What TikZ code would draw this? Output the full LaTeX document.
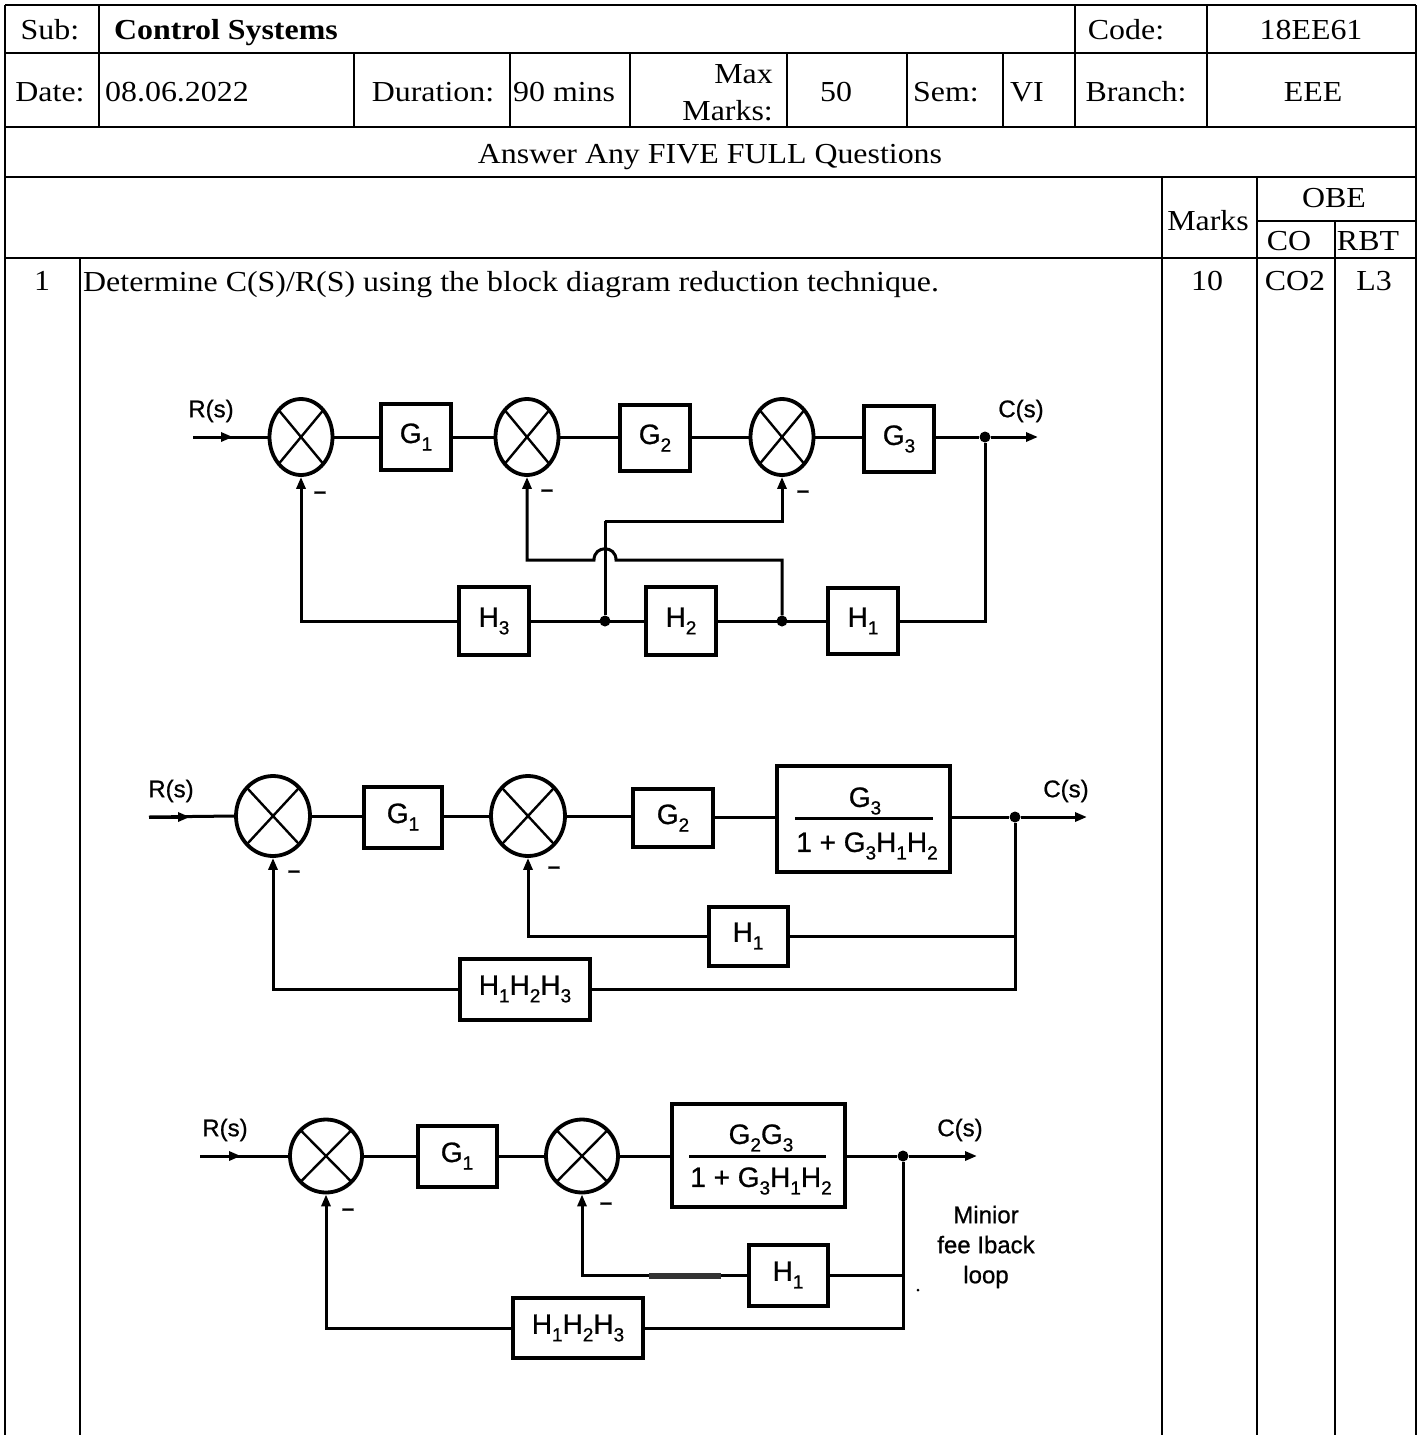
\documentclass[tikz,border=0pt]{standalone}
\usepackage{fontspec}
\setmainfont[FakeStretch=1.1]{Liberation Serif}
\newfontfamily\dfont[FakeBold=0.8]{Liberation Sans}
\usetikzlibrary{shapes.geometric,arrows.meta}
\newcommand{\sbx}[1]{\raisebox{-0.27em}{\fontsize{19}{19}\selectfont #1}}
\begin{document}
\begin{tikzpicture}[x=1pt,y=-1pt,line join=miter,
  tl/.style={line width=2.6},
  tlt/.style={line width=1.6},
  tx/.style={font=\fontsize{29}{34}\selectfont,inner sep=0},
  ln/.style={line width=3},
  arr/.style={line width=3,-{Triangle[length=12pt,width=9pt]}},
  sumj/.style={draw,ellipse,line width=3.8,inner sep=0,
    path picture={\draw[line width=2.4] (path picture bounding box.north west) -- (path picture bounding box.south east)
      (path picture bounding box.north east) -- (path picture bounding box.south west);}},
  blk/.style={draw,line width=4,inner sep=0,font=\dfont\fontsize{28}{28}\selectfont},
  lbl/.style={inner sep=0,font=\dfont\fontsize{24}{24}\selectfont},
  mns/.style={inner sep=0,font=\dfont\bfseries\fontsize{22}{22}\selectfont},
  dotn/.style={circle,fill,inner sep=0,minimum size=11}]
\useasboundingbox (0,0) rectangle (1422,1435);
% ---------- table ----------
\draw[tl] (5,5) -- (1416,5);
\draw[tl] (5,53) -- (1416,53);
\draw[tl] (5,127) -- (1416,127);
\draw[tl] (5,177) -- (1416,177);
\draw[tl] (1257,221) -- (1416,221);
\draw[tl] (5,258) -- (1416,258);
\draw[tl] (5,5) -- (5,1435);
\draw[tl] (1416,5) -- (1416,1435);
\foreach \x in {99,1075,1207} \draw[tl] (\x,5) -- (\x,53);
\foreach \x in {99,354,510,630,787,907,1003,1075,1207} \draw[tl] (\x,53) -- (\x,127);
\foreach \x in {1162,1257} \draw[tl] (\x,177) -- (\x,258);
\draw[tl] (1335,221) -- (1335,258);
\foreach \x in {80,1162,1257,1335} \draw[tlt] (\x,258) -- (\x,1435);
% header texts
\node[tx,anchor=base] (tsub) at (50,39) {Sub:};
\node[tx,anchor=base west] (tcs) at (114,39) {\bfseries Control Systems};
\node[tx,anchor=base] (tcode) at (1126,39) {Code:};
\node[tx,anchor=base] (tcodev) at (1311,39) {18EE61};
\node[tx,anchor=base] (tdate) at (50,101) {Date:};
\node[tx,anchor=base west] (tdatev) at (105,101) {08.06.2022};
\node[tx,anchor=base] (tdur) at (433,101) {Duration:};
\node[tx,anchor=base west] (tdurv) at (513,101) {90 mins};
\node[tx,anchor=base east] (tmax) at (773,83) {Max};
\node[tx,anchor=base east] (tmarks) at (773,120) {Marks:};
\node[tx,anchor=base] (tmaxv) at (836,101) {50};
\node[tx,anchor=base] (tsem) at (946,101) {Sem:};
\node[tx,anchor=base] (tsemv) at (1027,101) {VI};
\node[tx,anchor=base] (tbr) at (1136,101) {Branch:};
\node[tx,anchor=base] (tbrv) at (1313,101) {EEE};
\node[tx,anchor=base] (tans) at (710,163) {Answer Any FIVE FULL Questions};
\node[tx,anchor=base] (tmk) at (1208,230) {Marks};
\node[tx,anchor=base] (tobe) at (1334,207) {OBE};
\node[tx,anchor=base] (tco) at (1289,250) {CO};
\node[tx,anchor=base] (trbt) at (1368,250) {RBT};
\node[tx,anchor=base] (tq) at (42,290) {1};
\node[tx,anchor=base west] (tqt) at (83,291) {Determine C(S)/R(S) using the block diagram reduction technique.};
\node[tx,anchor=base] (tqm) at (1207,290) {10};
\node[tx,anchor=base] (tqc) at (1295,290) {CO2};
\node[tx,anchor=base] (tql) at (1374,290) {L3};
% ---------- diagram 1 ----------
\node[sumj,minimum width=63,minimum height=76] (a1) at (301,437) {};
\node[blk,minimum width=70,minimum height=66] (ag1) at (416,437) {G\sbx{1}};
\node[sumj,minimum width=63,minimum height=76] (a2) at (527,437) {};
\node[blk,minimum width=70,minimum height=66] (ag2) at (655,438) {G\sbx{2}};
\node[sumj,minimum width=63,minimum height=76] (a3) at (782,437) {};
\node[blk,minimum width=70,minimum height=66] (ag3) at (899,439) {G\sbx{3}};
\node[dotn] (ao) at (985,437) {};
\coordinate (aout) at (1038,437);
\coordinate (ain) at (193,437);
\coordinate (ainm) at (233,437);
\node[lbl] (ar) at (211,411) {R(s)};
\node[lbl] (ac) at (1021,411) {C(s)};
\node[blk,minimum width=70,minimum height=68] (ah3) at (494,621) {H\sbx{3}};
\node[blk,minimum width=70,minimum height=68] (ah2) at (681,621) {H\sbx{2}};
\node[blk,minimum width=70,minimum height=66] (ah1) at (863,621) {H\sbx{1}};
\node[dotn] (ad1) at (605,621) {};
\node[dotn] (ad2) at (782,621) {};
\coordinate (ak1) at (605,521);
\coordinate (aj1) at (782,560);
\coordinate (aj2) at (616,560);
\coordinate (aj3) at (594,560);
\draw[ln] (ain) -- (a1.west);
\draw[arr] (ain) -- (ainm);
\draw[ln] (a1.east) -- (ag1.west|-a1.east);
\draw[ln] (ag1.east|-a1.east) -- (a2.west);
\draw[ln] (a2.east) -- (ag2.west|-a2.east);
\draw[ln] (ag2.east|-a2.east) -- (a3.west);
\draw[ln] (a3.east) -- (ag3.west|-a3.east);
\draw[ln] (ag3.east|-ao) -- (ao);
\draw[arr] (ao) -- (aout);
\draw[ln] (ao) |- (ah1.east);
\draw[ln] (ah1.west) -- (ah2.east);
\draw[ln] (ah2.west) -- (ah3.east);
\draw[arr] (ah3.west) -| (a1.south);
\draw[ln] (ad1) -- (ak1);
\draw[arr] (ak1) -| (a3.south);
\draw[arr] (ad2) -- (aj1) -- (aj2) .. controls +(0,-15) and +(0,-15) .. (aj3) -| (a2.south);
\node[mns] (am1) at (320,495) {–};
\node[mns] (am2) at (547,493) {–};
\node[mns] (am3) at (803,494) {–};
% ---------- diagram 2 ----------
\node[sumj,minimum width=74,minimum height=80] (b1) at (273,816) {};
\node[blk,minimum width=78,minimum height=61] (bg1) at (403,817) {G\sbx{1}};
\node[sumj,minimum width=74,minimum height=80] (b2) at (528,816) {};
\node[blk,minimum width=80,minimum height=58] (bg2) at (673,818) {G\sbx{2}};
\node[blk,minimum width=173,minimum height=106] (bg3) at (863,819) {};
\node[blk,draw=none] (bn) at (865,801) {G\sbx{3}};
\node[blk,draw=none] (bd) at (867,846) {1 + G\sbx{3}H\sbx{1}H\sbx{2}};
\coordinate (bf1) at (795,818);
\coordinate (bf2) at (933,818);
\draw[ln] (bf1) -- (bf2);
\node[dotn] (bo) at (1015,817) {};
\coordinate (bout) at (1087,817);
\coordinate (bin) at (149,817);
\coordinate (binm) at (190,817);
\node[lbl] (br) at (171,791) {R(s)};
\node[lbl] (bc) at (1066,791) {C(s)};
\node[blk,minimum width=79,minimum height=59] (bh1) at (748,936) {H\sbx{1}};
\node[blk,minimum width=130,minimum height=61] (bh) at (525,989) {H\sbx{1}H\sbx{2}H\sbx{3}};
\draw[ln] (bin) -- (b1.west);
\draw[arr] (bin) -- (binm);
\draw[ln] (b1.east) -- (bg1.west|-b1.east);
\draw[ln] (bg1.east|-b1.east) -- (b2.west);
\draw[ln] (b2.east) -- (bg2.west|-b2.east);
\draw[ln] (bg2.east|-bo) -- (bg3.west|-bo);
\draw[ln] (bg3.east|-bo) -- (bo);
\draw[arr] (bo) -- (bout);
\draw[ln] (bo) |- (bh1.east);
\draw[ln] (bo) |- (bh.east);
\draw[arr] (bh1.west) -| (b2.south);
\draw[arr] (bh.west) -| (b1.south);
\node[mns] (bm1) at (294,874) {–};
\node[mns] (bm2) at (554,870) {–};
% ---------- diagram 3 ----------
\node[sumj,minimum width=72,minimum height=73] (c1) at (326,1156) {};
\node[blk,minimum width=79,minimum height=61] (cg1) at (457,1156) {G\sbx{1}};
\node[sumj,minimum width=72,minimum height=73] (c2) at (582,1156) {};
\node[blk,minimum width=173,minimum height=103] (cg) at (758,1155) {};
\node[blk,draw=none] (cn) at (761,1138) {G\sbx{2}G\sbx{3}};
\node[blk,draw=none] (cd) at (761,1181) {1 + G\sbx{3}H\sbx{1}H\sbx{2}};
\coordinate (cf1) at (689,1156);
\coordinate (cf2) at (826,1156);
\draw[ln] (cf1) -- (cf2);
\node[dotn] (co) at (903,1156) {};
\coordinate (cout) at (977,1156);
\coordinate (cin) at (200,1156);
\coordinate (cinm) at (241,1156);
\node[lbl] (cr) at (225,1130) {R(s)};
\node[lbl] (cc) at (960,1130) {C(s)};
\node[blk,minimum width=79,minimum height=61] (ch1) at (788,1275) {H\sbx{1}};
\node[blk,minimum width=130,minimum height=60] (ch) at (578,1328) {H\sbx{1}H\sbx{2}H\sbx{3}};
\node[lbl,align=center,font=\dfont\fontsize{24}{30}\selectfont] (cmin) at (986,1247) {Minior\\fee Iback\\loop};
\draw[ln] (cin) -- (c1.west);
\draw[arr] (cin) -- (cinm);
\draw[ln] (c1.east) -- (cg1.west|-c1.east);
\draw[ln] (cg1.east|-c1.east) -- (c2.west);
\draw[ln] (c2.east) -- (cg.west|-c2.east);
\draw[ln] (cg.east|-co) -- (co);
\draw[arr] (co) -- (cout);
\draw[ln] (co) |- (ch1.east);
\draw[ln] (co) |- (ch.east);
\draw[arr] (ch1.west) -| (c2.south);
\draw[arr] (ch.west) -| (c1.south);
\coordinate (cs1) at (649,1276);
\coordinate (cs2) at (721,1276);
\draw[line width=6,black!80] (cs1) -- (cs2);
\fill (918,1290) circle (1.5);
\node[mns] (cm1) at (348,1212) {–};
\node[mns] (cm2) at (606,1206) {–};
\end{tikzpicture}
\end{document}
